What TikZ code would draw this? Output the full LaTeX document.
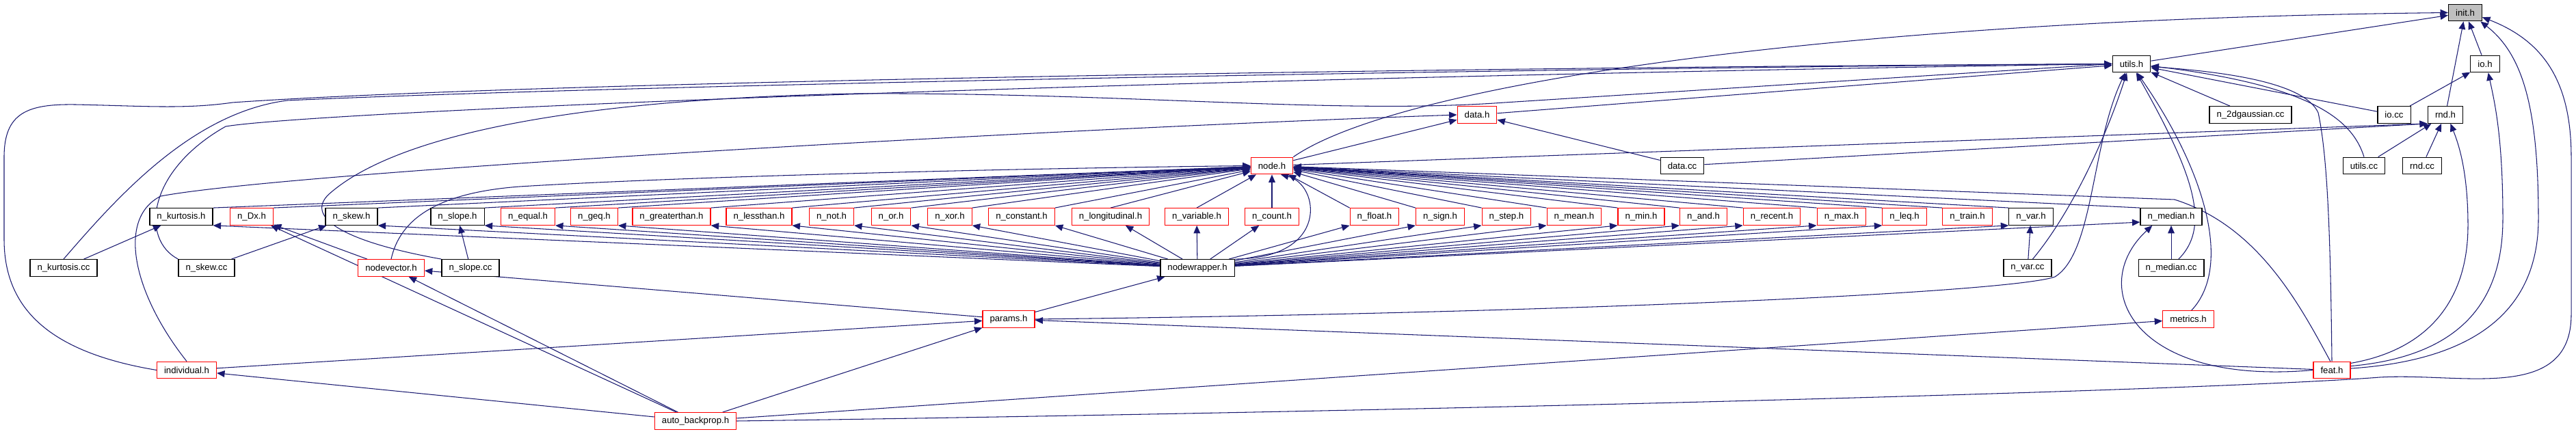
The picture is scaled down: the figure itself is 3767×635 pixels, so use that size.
\documentclass[tikz,border=0pt]{standalone}
\usepackage{fontspec}
\setmainfont{Liberation Sans}
\usepackage{tikz}
\usetikzlibrary{arrows.meta}
\definecolor{edgeblue}{HTML}{191970}
\definecolor{truncred}{HTML}{FF0000}
\definecolor{rootgray}{HTML}{BFBFBF}
\pgfdeclarelayer{background}
\pgfsetlayers{background,main}

\begin{document}
\begin{tikzpicture}[x=0.02cm, y=-0.02cm, font=\fontsize{7.5}{9}\selectfont]
    \tikzstyle{incfile}=[draw=black, fill=white, line width=0.7pt,
                         minimum height=14pt, inner xsep=6pt, inner ysep=2pt]
    \tikzstyle{redfile}=[incfile, draw=truncred]
    \tikzstyle{rootfile}=[incfile, fill=rootgray]
    \tikzstyle{incl}=[draw=edgeblue, line width=0.6pt, -{Triangle[length=6.5pt,width=5.5pt]}]

    \useasboundingbox (0,0) rectangle (3767,635);

    % top of the graph
    \node[rootfile] (init) at (3605,18.5) {init.h};
    \node[incfile] (utils) at (3117,93.5) {utils.h};
    \node[incfile] (io) at (3634,93.5) {io.h};
    \node[redfile] (datah) at (2160,168) {data.h};
    \node[incfile] (ntwodg) at (3291,168) {n\_2dgaussian.cc};
    \node[incfile] (iocc) at (3501,168) {io.cc};
    \node[incfile] (rnd) at (3576,168) {rnd.h};
    \node[redfile] (nodeh) at (1860,242.5) {node.h};
    \node[incfile] (datacc) at (2460,242.5) {data.cc};
    \node[incfile] (utilscc) at (3457,242.5) {utils.cc};
    \node[incfile] (rndcc) at (3542,242.5) {rnd.cc};

    % node types
    \node[incfile] (nkurt) at (265,317) {n\_kurtosis.h};
    \node[redfile] (ndx) at (368,317) {n\_Dx.h};
    \node[incfile] (nskew) at (514,317) {n\_skew.h};
    \node[incfile] (nslope) at (669,317) {n\_slope.h};
    \node[redfile] (nequal) at (772,317) {n\_equal.h};
    \node[redfile] (ngeq) at (869,317) {n\_geq.h};
    \node[redfile] (ngt) at (982,317) {n\_greaterthan.h};
    \node[redfile] (nlt) at (1110,317) {n\_lessthan.h};
    \node[redfile] (nnot) at (1216,317) {n\_not.h};
    \node[redfile] (nor) at (1303,317) {n\_or.h};
    \node[redfile] (nxor) at (1389,317) {n\_xor.h};
    \node[redfile] (nconst) at (1494,317) {n\_constant.h};
    \node[redfile] (nlong) at (1624,317) {n\_longitudinal.h};
    \node[redfile] (nvariable) at (1750,317) {n\_variable.h};
    \node[redfile] (ncount) at (1860,317) {n\_count.h};
    \node[redfile] (nfloat) at (2010,317) {n\_float.h};
    \node[redfile] (nsign) at (2106,317) {n\_sign.h};
    \node[redfile] (nstep) at (2203,317) {n\_step.h};
    \node[redfile] (nmean) at (2302,317) {n\_mean.h};
    \node[redfile] (nmin) at (2400,317) {n\_min.h};
    \node[redfile] (nand) at (2491,317) {n\_and.h};
    \node[redfile] (nrecent) at (2591,317) {n\_recent.h};
    \node[redfile] (nmax) at (2693,317) {n\_max.h};
    \node[redfile] (nleq) at (2785,317) {n\_leq.h};
    \node[redfile] (ntrain) at (2877,317) {n\_train.h};
    \node[incfile] (nvar) at (2970,317) {n\_var.h};
    \node[incfile] (nmedian) at (3175,317) {n\_median.h};

    % lower part
    \node[incfile] (nkurtcc) at (93,392) {n\_kurtosis.cc};
    \node[incfile] (nskewcc) at (302,392) {n\_skew.cc};
    \node[redfile] (nvec) at (572,392) {nodevector.h};
    \node[incfile] (nslopecc) at (688,392) {n\_slope.cc};
    \node[incfile] (nwrap) at (1751,392) {nodewrapper.h};
    \node[incfile] (nvarcc) at (2965,392) {n\_var.cc};
    \node[incfile] (nmediancc) at (3175,392) {n\_median.cc};
    \node[redfile] (params) at (1475,467) {params.h};
    \node[redfile] (metrics) at (3200,467) {metrics.h};
    \node[redfile] (indiv) at (273,541.5) {individual.h};
    \node[redfile] (feat) at (3410,541.5) {feat.h};
    \node[redfile] (autobp) at (1017,616) {auto\_backprop.h};

    \begin{pgfonlayer}{background}
    % into init.h
    \draw[incl] (utils) -- (init);
    \draw[incl] (io) -- (init);
    \draw[incl] (rnd) -- (init);
    \draw[incl] (nodeh.north east) .. controls (2050,120) and (2700,28) .. (init.west);
    \draw[incl] (feat.5) .. controls (3650,525) and (3712,430) .. (3712,320)
                .. controls (3712,160) and (3690,80) .. (init.-30);
    \draw[incl] (autobp.east) .. controls (2200,600) and (3250,570) .. (3480,552)
                .. controls (3600,545) and (3760,590) .. (3760,460) -- (3760,230)
                .. controls (3760,120) and (3720,60) .. (init.-15);

    % into io.h and rnd.h
    \draw[incl] (iocc) -- (io);
    \draw[incl] (feat.12) .. controls (3610,520) and (3660,430) .. (3660,320)
                .. controls (3660,200) and (3648,150) .. (io.-70);
    \draw[incl] (utilscc) -- (rnd);
    \draw[incl] (rndcc) -- (rnd);
    \draw[incl] (nodeh) -- (rnd.south west);
    \draw[incl] (datacc) -- (rnd.south west);
    \draw[incl] (feat.20) .. controls (3560,510) and (3609,430) .. (3609,330)
                .. controls (3609,250) and (3595,210) .. (rnd.-60);

    % into utils.h
    \draw[incl] (datah) -- (utils);
    \draw[incl] (ntwodg) -- (utils);
    \draw[incl] (iocc) -- (utils);
    \draw[incl] (utilscc.north) .. controls (3440,175) and (3380,125) .. (utils.-6);
    \draw[incl] (feat.north) .. controls (3408,350) and (3404,230) .. (3390,165)
                .. controls (3370,120) and (3250,105) .. (utils.-8);
    \draw[incl] (params.east) .. controls (2300,458) and (2940,428) .. (3005,405)
                .. controls (3062,370) and (3058,210) .. (utils.-125);
    \draw[incl] (nvarcc.60) .. controls (3030,310) and (3080,200) .. (utils.-118);
    \draw[incl] (nmediancc.50) .. controls (3235,330) and (3205,250) .. (utils.-62);
    \draw[incl] (metrics.70) .. controls (3265,390) and (3225,250) .. (utils.-58);
    \draw[incl] (nkurtcc.north) .. controls (170,290) and (280,165) .. (420,147)
                .. controls (900,125) and (2200,100) .. (utils.west);
    \draw[incl] (nskewcc.north west) .. controls (205,350) and (215,250) .. (330,185)
                .. controls (450,165) and (1500,118) .. (utils.west);
    \draw[incl] (indiv.west) .. controls (70,515) and (6,450) .. (6,350) -- (6,230)
                .. controls (6,165) and (40,152) .. (110,153)
                .. controls (210,155) and (270,160) .. (340,150)
                .. controls (800,118) and (2200,98) .. (utils.west);
    \draw[incl] (nslopecc.north west) .. controls (510,355) and (445,320) .. (480,285)
                .. controls (580,195) and (850,145) .. (1250,137)
                .. controls (1650,135) and (1950,168) .. (2200,150) -- (utils.west);

    % into data.h
    \draw[incl] (nodeh) -- (datah);
    \draw[incl] (datacc) -- (datah);
    \draw[incl] (indiv.north) .. controls (195,430) and (170,320) .. (235,287)
                .. controls (420,252) and (1500,190) .. (datah.west);

    % into node.h
    \draw[incl] (nvec.north) .. controls (585,320) and (640,282) .. (760,273)
                .. controls (1000,258) and (1500,246) .. (nodeh.west);
    \draw[incl] (nwrap.north east) .. controls (1945,378) and (1930,270) .. (nodeh.-45);
    \draw[incl] (feat.100) .. controls (3360,440) and (3300,330) .. (3180,292) -- (nodeh);
    \draw[incl] (nkurt.north east) -- (nodeh);
    \draw[incl] (ndx.north east) -- (nodeh);
    \draw[incl] (nskew.north east) -- (nodeh);
    \draw[incl] (nslope.north east) -- (nodeh);
    \draw[incl] (nequal.north east) -- (nodeh);
    \draw[incl] (ngeq.north east) -- (nodeh);
    \draw[incl] (ngt.north east) -- (nodeh);
    \draw[incl] (nlt.north east) -- (nodeh);
    \draw[incl] (nnot.north east) -- (nodeh);
    \draw[incl] (nor.north east) -- (nodeh);
    \draw[incl] (nxor.north east) -- (nodeh);
    \draw[incl] (nconst.north east) -- (nodeh);
    \draw[incl] (nlong.north) -- (nodeh);
    \draw[incl] (nvariable.north) -- (nodeh);
    \draw[incl] (ncount) -- (nodeh);
    \draw[incl] (nfloat.north west) -- (nodeh);
    \draw[incl] (nsign.north west) -- (nodeh);
    \draw[incl] (nstep.north west) -- (nodeh);
    \draw[incl] (nmean.north west) -- (nodeh);
    \draw[incl] (nmin.north west) -- (nodeh);
    \draw[incl] (nand.north west) -- (nodeh);
    \draw[incl] (nrecent.north west) -- (nodeh);
    \draw[incl] (nmax.north west) -- (nodeh);
    \draw[incl] (nleq.north west) -- (nodeh);
    \draw[incl] (ntrain.north west) -- (nodeh);
    \draw[incl] (nvar.north west) -- (nodeh);
    \draw[incl] (nmedian.north west) -- (nodeh);

    % nodewrapper.h to the node types
    \draw[incl] (nwrap) -- (nkurt.south east);
    \draw[incl] (nwrap) -- (nskew.south east);
    \draw[incl] (nwrap) -- (nslope.south east);
    \draw[incl] (nwrap) -- (nequal.south east);
    \draw[incl] (nwrap) -- (ngeq.south east);
    \draw[incl] (nwrap) -- (ngt.south east);
    \draw[incl] (nwrap) -- (nlt.south east);
    \draw[incl] (nwrap) -- (nnot.south east);
    \draw[incl] (nwrap) -- (nor.south east);
    \draw[incl] (nwrap) -- (nxor.south east);
    \draw[incl] (nwrap) -- (nconst.south east);
    \draw[incl] (nwrap) -- (nlong);
    \draw[incl] (nwrap) -- (nvariable);
    \draw[incl] (nwrap) -- (ncount);
    \draw[incl] (nwrap) -- (nfloat.south west);
    \draw[incl] (nwrap) -- (nsign.south west);
    \draw[incl] (nwrap) -- (nstep.south west);
    \draw[incl] (nwrap) -- (nmean.south west);
    \draw[incl] (nwrap) -- (nmin.south west);
    \draw[incl] (nwrap) -- (nand.south west);
    \draw[incl] (nwrap) -- (nrecent.south west);
    \draw[incl] (nwrap) -- (nmax.south west);
    \draw[incl] (nwrap) -- (nleq.south west);
    \draw[incl] (nwrap) -- (nvar.south west);
    \draw[incl] (nwrap) -- (nmedian.-170);

    % sources and the lower headers
    \draw[incl] (nkurtcc) -- (nkurt);
    \draw[incl] (nskewcc) -- (nskew);
    \draw[incl] (nslopecc) -- (nslope);
    \draw[incl] (nvarcc) -- (nvar);
    \draw[incl] (nmediancc) -- (nmedian);
    \draw[incl] (nvec) -- (ndx);
    \draw[incl] (params) -- (nwrap);
    \draw[incl] (params) -- (nvec);
    \draw[incl] (indiv) -- (params);
    \draw[incl] (feat) -- (params);
    \draw[incl] (feat.west) .. controls (3120,565) and (3050,420) .. (nmedian.-155);
    \draw[incl] (autobp) -- (indiv);
    \draw[incl] (autobp) -- (params);
    \draw[incl] (autobp) -- (metrics);
    \draw[incl] (autobp) -- (ndx);
    \draw[incl] (autobp) -- (nvec);
    \end{pgfonlayer}
\end{tikzpicture}
\end{document}
